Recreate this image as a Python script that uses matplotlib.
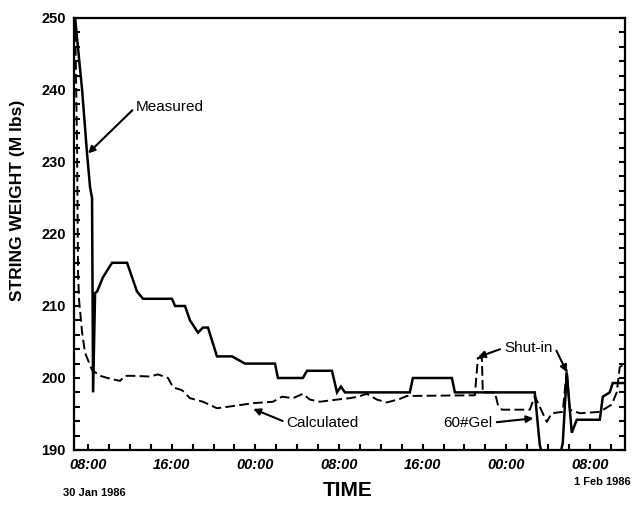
import matplotlib
matplotlib.use("Agg")
import matplotlib.pyplot as plt
from matplotlib.ticker import MultipleLocator, FixedLocator

# hours counted from 30 Jan 1986 00:00
measured_hours = [6.76, 7.43, 7.90, 8.19, 8.38, 8.48, 8.67, 8.86, 9.43, 10.29,
                  11.73, 12.68, 13.26, 16.03, 16.32, 17.27, 17.75, 18.52, 18.99,
                  19.47, 20.33, 21.77, 23.01, 25.88, 26.16, 28.55, 28.94, 31.33,
                  31.81, 32.19, 32.57, 38.78, 39.07, 42.80, 43.09, 50.73, 51.21,
                  51.50, 53.12, 53.41, 53.79, 54.27, 54.75, 56.95, 57.24, 57.90,
                  58.19, 59.34]
measured_weight = [250, 240, 231.2, 226.5, 225, 198, 211.8, 212, 214, 216,
                   216, 212, 211, 211, 210, 210, 208, 206.3, 207,
                   207, 203, 203, 202, 202, 200, 200, 201, 201,
                   198, 198.8, 198, 198, 200, 200, 198, 198, 190.7,
                   189, 189, 191, 200.7, 192.4, 194.2, 194.2, 197.4, 198,
                   199.3, 199.3]

calc_hours = [6.76, 6.95, 7.04, 7.14, 7.43, 7.71, 8.38, 9.15, 10.10, 11.06,
              11.54, 12.30, 13.93, 14.69, 15.65, 16.13, 16.99, 17.75, 18.99,
              20.33, 21.86, 23.77, 25.69, 26.55, 27.60, 28.55, 29.22, 30.18,
              31.81, 33.05, 33.81, 34.67, 35.63, 36.59, 37.83, 38.50, 45.00,
              45.29, 45.67, 45.76, 46.91, 47.20, 47.58, 50.26, 50.73, 51.88,
              52.35, 53.41, 53.79, 54.08, 55.04, 56.95, 58.09, 58.57, 58.86,
              59.34]
calc_weight = [250, 232, 214.6, 210.8, 206.3, 203.5, 201.1, 200.3, 199.9, 199.6,
               200.3, 200.3, 200.2, 200.5, 200, 198.7, 198.3, 197.2, 196.7,
               195.8, 196.1, 196.5, 196.7, 197.4, 197.2, 197.8, 197, 196.7,
               197, 197.2, 197.4, 197.8, 197, 196.6, 197.1, 197.5, 197.6,
               202.8, 202.8, 198, 198, 196.3, 195.6, 195.6, 197.5, 193.9,
               195.1, 195.3, 201.1, 195.6, 195.1, 195.3, 196.3, 198, 201.5,
               202]

tick_hours = [8, 16, 24, 32, 40, 48, 56]
tick_labels = ["08:00", "16:00", "00:00", "08:00", "16:00", "00:00", "08:00"]

plt.rcParams["font.family"] = ["Liberation Sans", "DejaVu Sans"]

fig = plt.figure(figsize=(6.33, 5.11), dpi=100)
ax = fig.add_axes([0.117, 0.1194, 0.870, 0.8454])

ax.plot(measured_hours, measured_weight, color="black", lw=1.8,
        solid_joinstyle="miter")
ax.plot(calc_hours, calc_weight, color="black", lw=1.4, dashes=(5, 2.2))

ax.set_xlim(6.66, 59.34)
ax.set_ylim(190, 250)
ax.xaxis.set_major_locator(FixedLocator(tick_hours))
ax.set_xticklabels(tick_labels, fontsize=10.5, fontweight="bold",
                   fontstyle="italic")
ax.xaxis.set_minor_locator(MultipleLocator(2))
ax.yaxis.set_major_locator(MultipleLocator(10))
ax.yaxis.set_minor_locator(MultipleLocator(2))
for lab in ax.get_yticklabels():
    lab.set_fontsize(10.5)
    lab.set_fontweight("bold")
ax.tick_params(which="both", direction="in", width=1.5, right=True)
ax.tick_params(which="major", length=4, pad=6)
ax.tick_params(which="minor", length=4)
for sp in ax.spines.values():
    sp.set_linewidth(1.6)

arrow = dict(arrowstyle="-|>", color="black", lw=1.5, mutation_scale=10,
             shrinkA=1, shrinkB=0)
ax.annotate("Measured", xy=(8.0, 231.2), xytext=(12.6, 237.7),
            fontsize=11, va="center", ha="left",
            arrowprops=dict(arrow, relpos=(0, 0.5)))
ax.annotate("Calculated", xy=(23.8, 195.7), xytext=(27.0, 193.8),
            fontsize=11, va="center", ha="left",
            arrowprops=dict(arrow, relpos=(0, 0.5)))
ax.annotate("Shut-in", xy=(45.3, 202.9), xytext=(47.8, 204.2),
            fontsize=11, va="center", ha="left",
            arrowprops=dict(arrow, relpos=(0, 0.5)))
ax.annotate("", xy=(53.8, 200.8), xytext=(52.8, 203.8),
            arrowprops=dict(arrow, shrinkA=0))
ax.annotate("60#Gel", xy=(50.6, 194.4), xytext=(46.7, 193.8),
            fontsize=11, va="center", ha="right",
            arrowprops=dict(arrow, relpos=(1, 0.5)))

fig.text(18 / 633, 1 - 200 / 511, "STRING WEIGHT (M lbs)", rotation=90,
         fontsize=12.5, fontweight="bold", ha="center", va="center")
fig.text(348 / 633, 1 - 490 / 511, "TIME", fontsize=15, fontweight="bold",
         ha="center", va="center")
fig.text(63 / 633, 1 - 493 / 511, "30 Jan 1986", fontsize=8, fontweight="bold",
         ha="left", va="center")
fig.text(631 / 633, 1 - 482 / 511, "1 Feb 1986", fontsize=8, fontweight="bold",
         ha="right", va="center")

fig.savefig("out.png", dpi=100)
